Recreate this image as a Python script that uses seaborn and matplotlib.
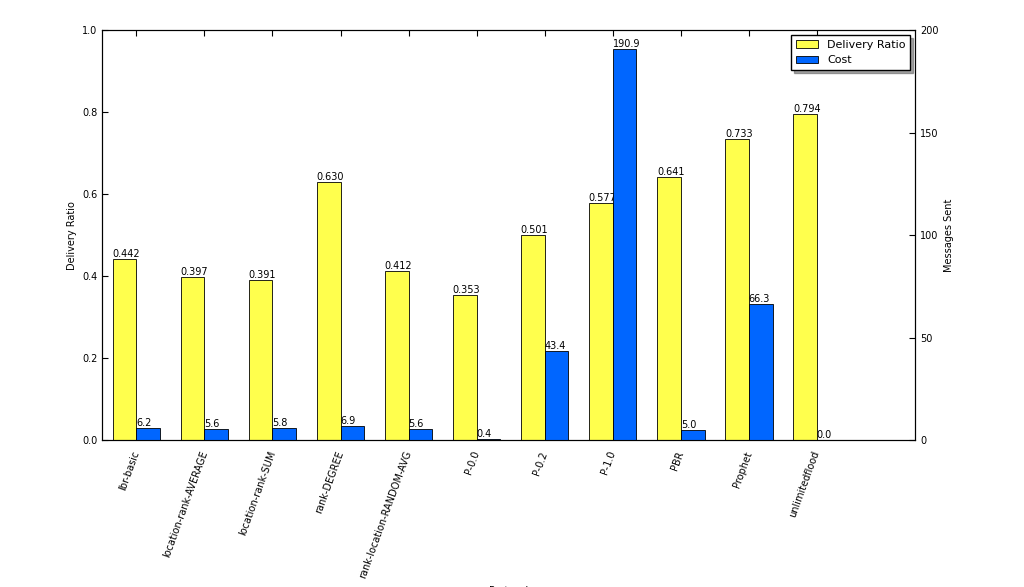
import matplotlib
matplotlib.use("Agg")
import matplotlib.pyplot as plt
import seaborn as sns
import numpy as np

protocols = ["lbr-basic", "location-rank-AVERAGE", "location-rank-SUM", "rank-DEGREE",
             "rank-location-RANDOM-AVG", "P-0.0", "P-0.2", "P-1.0", "PBR", "Prophet", "unlimitedflood"]
delivery = [0.442, 0.397, 0.391, 0.630, 0.412, 0.353, 0.501, 0.577, 0.641, 0.733, 0.794]
cost = [6.2, 5.6, 5.8, 6.9, 5.6, 0.4, 43.4, 190.9, 5.0, 66.3, 0.0]

sns.set_style("white")
plt.rcParams.update({"xtick.direction": "in", "ytick.direction": "in", "font.size": 7,
                     "text.color": "black", "axes.labelcolor": "black",
                     "xtick.color": "black", "ytick.color": "black"})

fig = plt.figure(figsize=(10.24, 5.87), dpi=100)
ax = fig.add_axes([0.1, 0.25, 0.794, 0.699])
ax2 = ax.twinx()
ind = np.arange(len(protocols))
w = 0.35
b1 = ax.bar(ind, delivery, w, align="edge", color="#ffff4d", edgecolor="black", linewidth=0.6, label="Delivery Ratio")
b2 = ax2.bar(ind + w, cost, w, align="edge", color="#0066ff", edgecolor="black", linewidth=0.6, label="Cost")
for x, v in zip(ind, delivery):
    ax.text(x, v, f"{v:.3f}", ha="left", va="bottom", fontsize=7)
for x, v in zip(ind, cost):
    ax2.text(x + w, v, f"{v:.1f}", ha="left", va="bottom", fontsize=7)
ax.set_ylim(0, 1.0)
ax2.set_ylim(0, 200)
ax2.set_yticks([0, 50, 100, 150, 200])
ax.set_xlim(-0.15, 11.8)
ax.set_xticks(ind + w)
ax.set_xticklabels(protocols, rotation=70, ha="right", va="center", rotation_mode="anchor", fontsize=7)
ax.set_ylabel("Delivery Ratio", fontsize=7)
ax2.set_ylabel("Messages Sent", fontsize=7)
ax.set_xlabel("Protocol", fontsize=7, labelpad=4)
for a in (ax, ax2):
    a.tick_params(labelsize=7, length=4, direction="in")
    for s in a.spines.values():
        s.set_color("black"); s.set_linewidth(0.8)
ax.tick_params(axis="x", top=True, length=4, pad=8)
ax.tick_params(axis="y", left=True)
ax2.tick_params(axis="y", right=True)
leg = ax.legend([b1, b2], ["Delivery Ratio", "Cost"], loc="upper right", fontsize=8,
                fancybox=False, shadow=True, edgecolor="black", framealpha=1)
fig.savefig("out.png", dpi=100)
